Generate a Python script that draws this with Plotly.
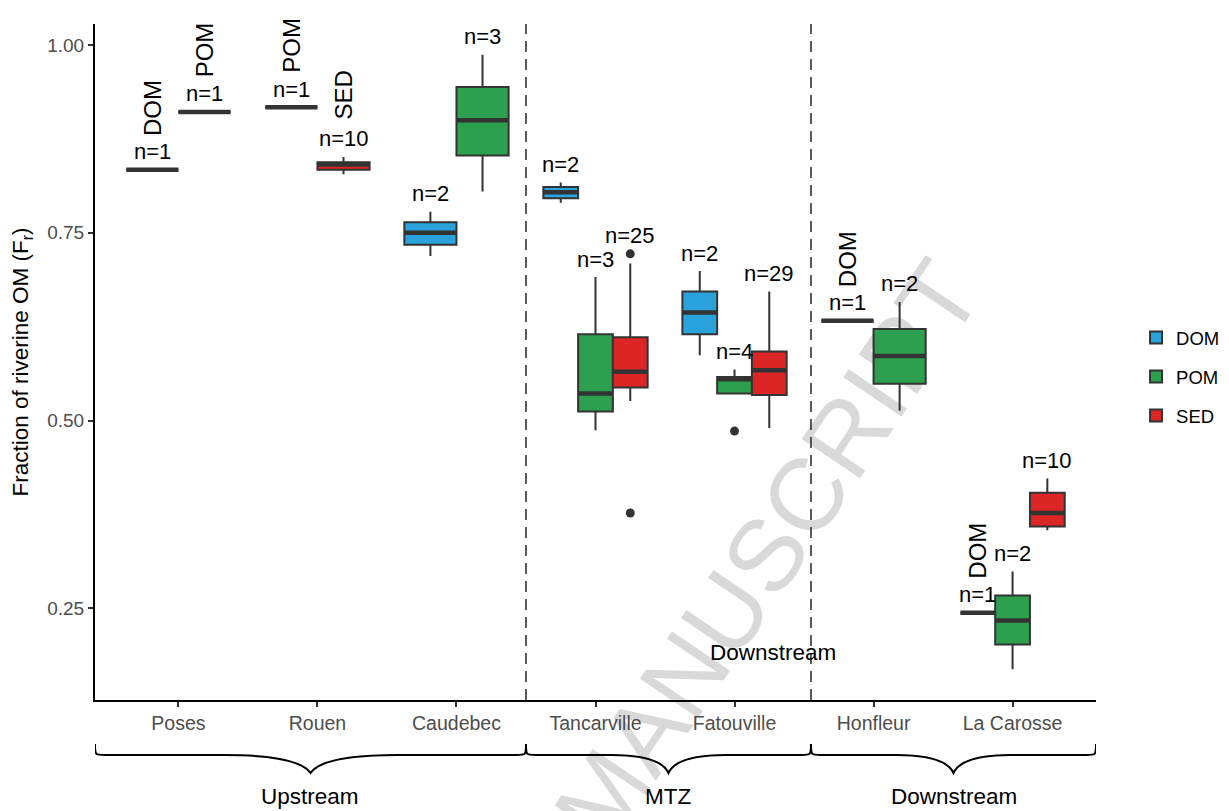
import plotly.graph_objects as go

# ---------------- data ----------------
sites = ["Poses", "Rouen", "Caudebec", "Tancarville", "Fatouville", "Honfleur", "La Carosse"]
groups = ["DOM", "POM", "SED"]
colors = {"DOM": "#2AA3DC", "POM": "#2CA04F", "SED": "#DC2626"}

dom_site = ["Poses", "Caudebec", "Tancarville", "Fatouville", "Honfleur", "La Carosse"]
dom_low = [0.834, 0.719, 0.790, 0.587, 0.633, 0.244]
dom_q1 = [0.834, 0.734, 0.796, 0.615, 0.633, 0.244]
dom_med = [0.834, 0.750, 0.804, 0.644, 0.633, 0.244]
dom_q3 = [0.834, 0.764, 0.811, 0.672, 0.633, 0.244]
dom_high = [0.834, 0.778, 0.817, 0.699, 0.633, 0.244]
dom_n = [1, 2, 2, 2, 1, 1]
dom_out = [[], [], [], [], [], []]

pom_site = ["Poses", "Rouen", "Caudebec", "Tancarville", "Fatouville", "Honfleur", "La Carosse"]
pom_low = [0.911, 0.917, 0.805, 0.487, 0.536, 0.513, 0.169]
pom_q1 = [0.911, 0.917, 0.853, 0.512, 0.536, 0.549, 0.202]
pom_med = [0.911, 0.917, 0.900, 0.536, 0.555, 0.586, 0.234]
pom_q3 = [0.911, 0.917, 0.944, 0.615, 0.558, 0.622, 0.267]
pom_high = [0.911, 0.917, 0.987, 0.691, 0.568, 0.658, 0.299]
pom_n = [1, 1, 3, 3, 4, 2, 2]
pom_out = [[], [], [], [], [0.486], [], []]

sed_site = ["Rouen", "Tancarville", "Fatouville", "La Carosse"]
sed_low = [0.828, 0.526, 0.490, 0.354]
sed_q1 = [0.834, 0.544, 0.534, 0.359]
sed_med = [0.841, 0.565, 0.567, 0.377]
sed_q3 = [0.844, 0.611, 0.592, 0.404]
sed_high = [0.851, 0.709, 0.672, 0.423]
sed_n = [10, 25, 29, 10]
sed_out = [[], [0.722, 0.377], [], []]

# groups whose box is hard to see get a rotated name label
named_boxes = [("Poses", "DOM"), ("Poses", "POM"), ("Rouen", "POM"),
               ("Rouen", "SED"), ("Honfleur", "DOM"), ("La Carosse", "DOM")]

zones = ["Upstream", "MTZ", "Downstream"]
zone_bounds = [0.4, 3.5, 5.55, 7.6]
inner_label = "Downstream"

# ---------------- assemble ----------------
series = {
    "DOM": dict(site=dom_site, low=dom_low, q1=dom_q1, med=dom_med, q3=dom_q3, high=dom_high, n=dom_n, out=dom_out),
    "POM": dict(site=pom_site, low=pom_low, q1=pom_q1, med=pom_med, q3=pom_q3, high=pom_high, n=pom_n, out=pom_out),
    "SED": dict(site=sed_site, low=sed_low, q1=sed_q1, med=sed_med, q3=sed_q3, high=sed_high, n=sed_n, out=sed_out),
}

present = {s: [g for g in groups if s in series[g]["site"]] for s in sites}

def dodge(site, g):
    gs = present[site]
    k = len(gs)
    w = 0.75 / k
    i = gs.index(g)
    return sites.index(site) + 1 + (i - (k - 1) / 2) * w, w

FONT = "Liberation Sans, Arial, sans-serif"
DARK = "#333333"

fig = go.Figure()
annotations = []
shapes = []

for g in groups:
    d = series[g]
    first = True
    for j, s in enumerate(d["site"]):
        xpos, w = dodge(s, g)
        fig.add_trace(go.Box(
            x=[xpos], q1=[d["q1"][j]], median=[d["med"][j]], q3=[d["q3"][j]],
            lowerfence=[d["low"][j]], upperfence=[d["high"][j]],
            width=w, orientation="v", boxpoints=False, whiskerwidth=0,
            fillcolor=colors[g], line=dict(color=DARK, width=2),
            name=g, legendgroup=g, showlegend=first, hoverinfo="skip",
        ))
        first = False
        # thick median
        fig.add_trace(go.Scatter(
            x=[xpos - w / 2, xpos + w / 2], y=[d["med"][j], d["med"][j]],
            mode="lines", line=dict(color=DARK, width=4.5),
            showlegend=False, hoverinfo="skip",
        ))
        if d["out"][j]:
            fig.add_trace(go.Scatter(
                x=[xpos] * len(d["out"][j]), y=d["out"][j], mode="markers",
                marker=dict(color=DARK, size=9), showlegend=False, hoverinfo="skip",
            ))
        top = max([d["high"][j]] + d["out"][j])
        annotations.append(dict(
            x=xpos, y=top, xref="x", yref="y", text=f"n={d['n'][j]}",
            showarrow=False, yanchor="middle", yshift=18,
            font=dict(family=FONT, size=22, color="black"),
        ))
        if (s, g) in named_boxes:
            annotations.append(dict(
                x=xpos, y=top, xref="x", yref="y", text=g, textangle=-90,
                showarrow=False, yanchor="middle", xanchor="center", yshift=62,
                font=dict(family=FONT, size=24, color="black"),
            ))

# dashed separators
for xb in zone_bounds[1:-1]:
    shapes.append(dict(type="line", xref="x", yref="paper", x0=xb, x1=xb, y0=0, y1=1,
                       line=dict(color=DARK, width=1.6, dash="11px,7px")))

# braces below the axis
def py(Y):
    return (700 - Y) / 676.0

y0, y1, y2 = py(744), py(755), py(773)
rh = 10 / 139.0
for k, z in enumerate(zones):
    a, b = zone_bounds[k], zone_bounds[k + 1]
    m = (a + b) / 2
    w = 0.4 * (b - a) / 2
    ym = y1 + (y2 - y1) * 0.3
    path = (f"M {a},{y0} C {a},{y1} {a},{y1} {a + rh},{y1} "
            f"L {m - w},{y1} C {m - 0.45 * w},{y1} {m - 0.1 * w},{ym} {m},{y2} "
            f"C {m + 0.1 * w},{ym} {m + 0.45 * w},{y1} {m + w},{y1} "
            f"L {b - rh},{y1} C {b},{y1} {b},{y1} {b},{y0}")
    shapes.append(dict(type="path", xref="x", yref="paper", path=path,
                       line=dict(color="black", width=2)))
    annotations.append(dict(x=m, y=py(797), xref="x", yref="paper", text=z,
                            showarrow=False, yanchor="middle",
                            font=dict(family=FONT, size=22.5, color="black")))

annotations.append(dict(x=5.28, y=0.191, xref="x", yref="y", text=inner_label,
                        showarrow=False, font=dict(family=FONT, size=22.5, color="black")))

# watermark (below the data)
cx, cy = (596 - 95) / 1001.0, py(789)
shapes.append(dict(type="line", xref="paper", yref="paper", layer="below",
                   x0=cx - 0.01, x1=cx + 0.01, y0=cy, y1=cy,
                   line=dict(color="rgba(0,0,0,0)", width=0),
                   label=dict(text="ACCEPTED MANUSCRIPT", textangle=-56, textposition="middle",
                              xanchor="center", yanchor="middle",
                              font=dict(family=FONT, size=102, color="#D9D9D9"))))

fig.update_layout(
    width=1229, height=811,
    margin=dict(l=95, r=133, t=24, b=111, autoexpand=False),
    paper_bgcolor="white", plot_bgcolor="white",
    boxmode="overlay",
    font=dict(family=FONT, color="black"),
    showlegend=True,
    legend=dict(x=1.04, y=0.478, xanchor="left", yanchor="middle",
                font=dict(family=FONT, size=18.5, color="black"),
                tracegroupgap=12, bgcolor="rgba(0,0,0,0)"),
    xaxis=dict(range=[0.4, 7.6], tickvals=list(range(1, len(sites) + 1)), ticktext=sites,
               showline=True, linecolor="black", linewidth=2, ticks="outside",
               ticklen=5, tickwidth=1.5, tickcolor=DARK, showgrid=False, zeroline=False,
               automargin=False,
               tickfont=dict(family=FONT, size=19.5, color="#4D4D4D")),
    yaxis=dict(range=[0.128, 1.028], tickvals=[0.25, 0.5, 0.75, 1.0],
               ticktext=["0.25", "0.50", "0.75", "1.00"],
               showline=True, linecolor="black", linewidth=2, ticks="outside",
               ticklen=5, tickwidth=1.5, tickcolor=DARK, showgrid=False, zeroline=False,
               automargin=False,
               tickfont=dict(family=FONT, size=19, color="#4D4D4D"),
               title=dict(text="Fraction of riverine OM (F<sub>r</sub>)", standoff=12,
                          font=dict(family=FONT, size=22.5, color="black"))),
    annotations=annotations,
    shapes=shapes,
)

fig.write_html("out.html")
